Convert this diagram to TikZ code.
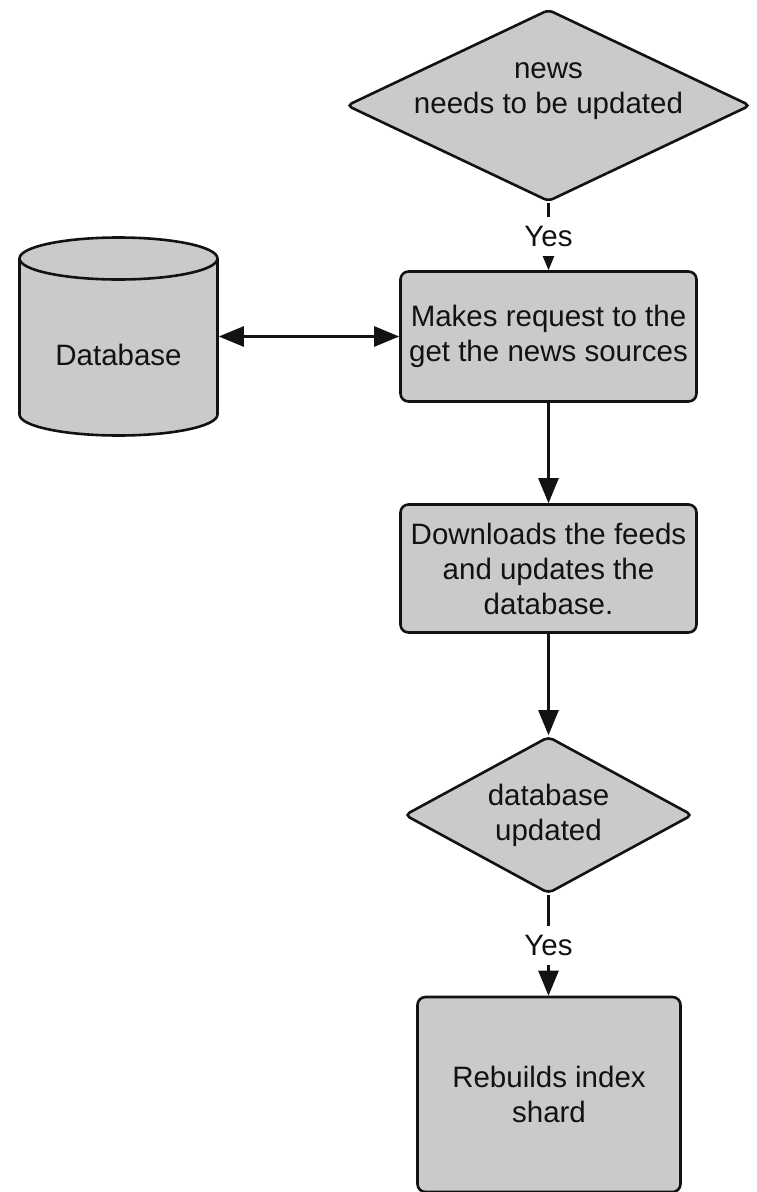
\documentclass[tikz,border=0pt]{standalone}
\usepackage{fontspec}
\setmainfont{Liberation Sans}
\usetikzlibrary{shapes.geometric,arrows.meta}
\definecolor{boxgray}{RGB}{202,202,202}
\definecolor{ink}{RGB}{18,18,18}

\begin{document}
\begin{tikzpicture}[x=1pt,y=1pt,
  every node/.style={font=\fontsize{29.5}{35}\selectfont, text=ink},
  proc/.style={draw=ink, fill=boxgray, line width=2.6pt, rounded corners=8pt,
    align=center, inner sep=0pt},
  decision/.style={diamond, aspect=2, draw=ink, fill=boxgray, line width=2.6pt,
    rounded corners=5pt, inner sep=0pt, align=center},
  tip/.tip={Triangle[length=25pt,width=20pt]},
  flow/.style={draw=ink, line width=2.6pt, -tip},
  twoway/.style={draw=ink, line width=2.6pt, tip-tip},
  yeslabel/.style={fill=white, inner xsep=3pt, inner ysep=9pt}]

\useasboundingbox (0,0) rectangle (757,-1192);

% decisions and process steps
\node[decision, minimum width=404pt, minimum height=192pt] (d1) at (548.5,-105.5) {};
\node[align=center] (d1t) at (548.5,-91) {news\\needs to be updated};

\node[proc, minimum width=296pt, minimum height=130pt] (b1) at (548.5,-336.5)
  {Makes request to the\\get the news sources};
\node[proc, minimum width=296pt, minimum height=128pt] (b2) at (548.5,-568.5)
  {Downloads the feeds\\and updates the\\database.};
\node[decision, minimum width=288pt, minimum height=157pt] (d2) at (548.5,-815)
  {database\\updated};
\node[proc, minimum width=263pt, minimum height=195pt] (b3) at (549,-1094.5)
  {Rebuilds index\\shard};

% database cylinder
\node[minimum width=198pt, minimum height=198pt, inner sep=0pt, outer sep=1.3pt]
  (db) at (118.5,-336.5) {};
\begin{scope}[shift={(db.center)}, draw=ink, line width=2.6pt]
  \filldraw[fill=boxgray] (-99,78) -- (-99,-78)
    arc[start angle=180, end angle=360, x radius=99, y radius=21] -- (99,78)
    arc[start angle=0, end angle=180, x radius=99, y radius=21] -- cycle;
  \draw (-99,78) arc[start angle=180, end angle=360, x radius=99, y radius=21];
\end{scope}
\node (dbt) at ([yshift=-18pt]db.center) {Database};

% connectors
\draw[twoway] (db.east) -- (b1.west);
\draw[flow] (d1.south) -- node[yeslabel] {Yes} (b1.north);
\draw[flow] (b1.south) -- (b2.north);
\draw[flow] (b2.south) -- (d2.north);
\draw[flow] (d2.south) -- node[yeslabel] {Yes} (d2.south |- b3.north);
\end{tikzpicture}
\end{document}
